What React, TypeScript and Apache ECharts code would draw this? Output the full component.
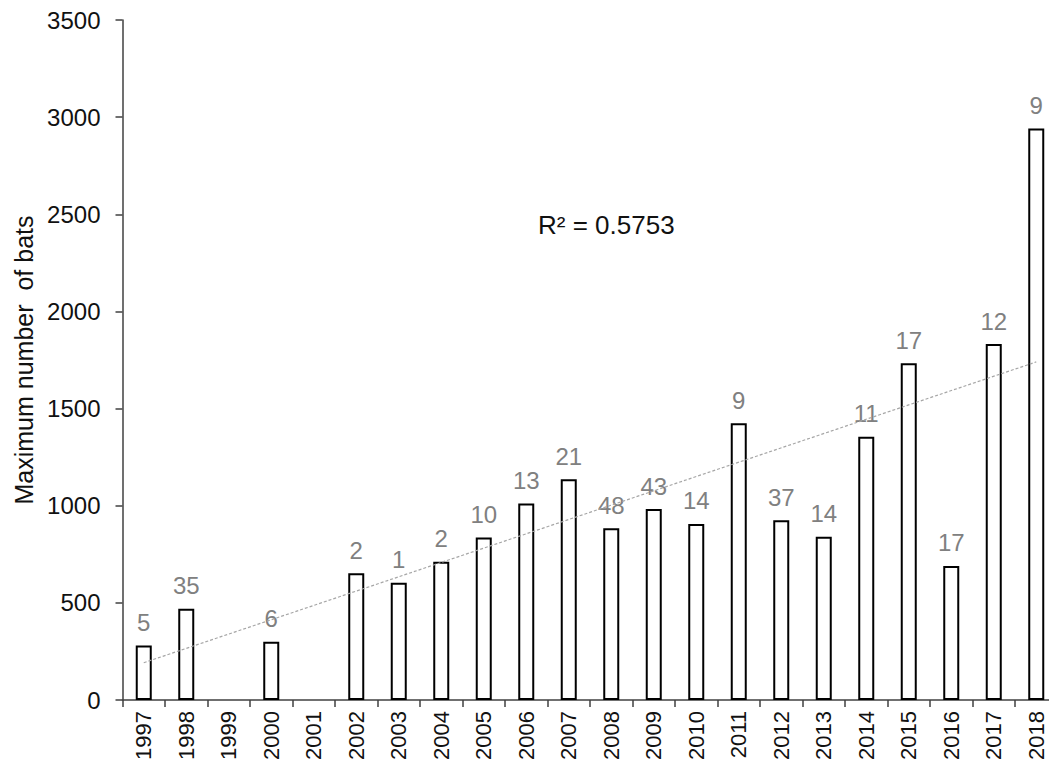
import React, { useEffect, useRef } from "react";
import * as echarts from "echarts";

const years = ["1997","1998","1999","2000","2001","2002","2003","2004","2005","2006","2007","2008","2009","2010","2011","2012","2013","2014","2015","2016","2017","2018"];
const maxBats = [280, 470, null, 300, null, 652, 604, 712, 837, 1012, 1136, 884, 983, 906, 1424, 925, 840, 1355, 1733, 690, 1832, 2942];
const counts = [5, 35, null, 6, null, 2, 1, 2, 10, 13, 21, 48, 43, 14, 9, 37, 14, 11, 17, 17, 12, 9];
const trendStart = 192;
const trendEnd = 1740;
const yTicks = { min: 0, max: 3500, interval: 500 };
const rSquared = "R² = 0.5753";
const yTitle = "Maximum number  of bats";

const FONT = "Liberation Sans, Arial, sans-serif";

export default function App() {
  const ref = useRef<HTMLDivElement>(null);
  useEffect(() => {
    if (!ref.current) return;
    const chart = echarts.init(ref.current, undefined, { renderer: "svg" });
    const trend = years.map((_, i) => (i === 0 ? trendStart : i === years.length - 1 ? trendEnd : null));
    chart.setOption({
      animation: false,
      backgroundColor: "#ffffff",
      textStyle: { fontFamily: FONT },
      grid: { left: 122.5, top: 20, bottom: 64, right: -8.5, containLabel: false, outerBoundsMode: "none" },
      xAxis: {
        type: "category",
        data: years,
        boundaryGap: true,
        axisLine: { lineStyle: { color: "#404040", width: 1.5 } },
        axisTick: { show: true, length: 7, alignWithLabel: false, lineStyle: { color: "#404040", width: 1.5 } },
        axisLabel: { rotate: 90, margin: 11, fontSize: 22, color: "#111", fontFamily: FONT, interval: 0, hideOverlap: false },
        splitLine: { show: false },
      },
      yAxis: {
        type: "value",
        min: yTicks.min,
        max: yTicks.max,
        interval: yTicks.interval,
        name: yTitle,
        nameLocation: "middle",
        nameGap: 85,
        nameTextStyle: { fontSize: 25, color: "#111", fontFamily: FONT },
        axisLine: { show: true, lineStyle: { color: "#404040", width: 1.5 } },
        axisTick: { show: true, length: 7, lineStyle: { color: "#404040", width: 1.5 } },
        axisLabel: { margin: 22, fontSize: 24, color: "#111", fontFamily: FONT, formatter: (v: number) => String(v) },
        splitLine: { show: false },
      },
      series: [
        {
          type: "bar",
          data: maxBats.map((v, i) => ({
            value: v,
            label: { show: counts[i] !== null, formatter: counts[i] === null ? "" : String(counts[i]) },
          })),
          barWidth: 16,
          itemStyle: { color: "#ffffff", borderColor: "#000000", borderWidth: 2 },
          label: { show: true, position: "top", distance: 11, fontSize: 24, color: "#808080", fontFamily: FONT },
          z: 2,
        },
        {
          type: "line",
          data: trend,
          connectNulls: true,
          symbol: "none",
          lineStyle: { color: "#a6a6a6", width: 1.2, type: [3, 2] },
          z: 3,
        },
      ],
      graphic: [
        {
          type: "text",
          x: 538,
          y: 225,
          style: { text: rSquared, fontSize: 26, fill: "#111", fontFamily: FONT, verticalAlign: "middle", align: "left" },
        },
      ],
    });
    return () => chart.dispose();
  }, []);
  return <div ref={ref} style={{ position: "absolute", left: 0, top: 0, width: 1049, height: 764 }} />;
}
